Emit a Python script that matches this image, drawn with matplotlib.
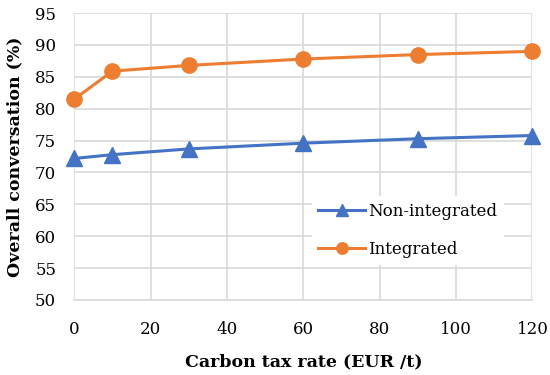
import numpy as np
import matplotlib
matplotlib.use('Agg')
import matplotlib.pyplot as plt

plt.rcParams['font.family'] = ['DejaVu Serif']

tax = [0, 10, 30, 60, 90, 120]
non_integrated = [72.2, 72.8, 73.7, 74.6, 75.3, 75.8]
integrated = [81.5, 85.9, 86.8, 87.8, 88.5, 89.0]

fig = plt.figure(figsize=(5.5, 3.75), dpi=100)
ax = fig.add_axes([0.135, 0.2, 0.833, 0.765])

ax.plot(tax, non_integrated, color='#4472C4', lw=2.2, marker='^', ms=11,
        label='Non-integrated', clip_on=False, zorder=3)
ax.plot(tax, integrated, color='#ED7D31', lw=2.2, marker='o', ms=11,
        label='Integrated', clip_on=False, zorder=3)

ax.set_xlim(0, 120)
ax.set_ylim(50, 95)
ax.set_xticks(np.arange(0, 121, 20))
ax.set_yticks(np.arange(50, 96, 5))
ax.grid(True, color='#D9D9D9', lw=1.2)
ax.set_axisbelow(True)
for s in ['top', 'right', 'left']:
    ax.spines[s].set_visible(False)
ax.spines['bottom'].set_color('#D9D9D9')
ax.spines['bottom'].set_linewidth(1.2)
ax.tick_params(axis='y', length=0, labelsize=12, pad=13)
ax.tick_params(axis='x', length=0, labelsize=12, pad=15)

ax.set_xlabel('Carbon tax rate (EUR /t)', fontsize=12.5, fontweight='bold', labelpad=11)
ax.set_ylabel('Overall conversation (%)', fontsize=12.5, fontweight='bold')
ax.yaxis.set_label_coords(-0.112, 0.5)

leg = ax.legend(loc='upper left', bbox_to_anchor=(0.5, 0.39), fontsize=12,
                frameon=True, fancybox=False, edgecolor='none', framealpha=1,
                handlelength=2.8, handletextpad=0.2, labelspacing=1.25,
                markerscale=0.75)

fig.savefig('out.png', dpi=100)
